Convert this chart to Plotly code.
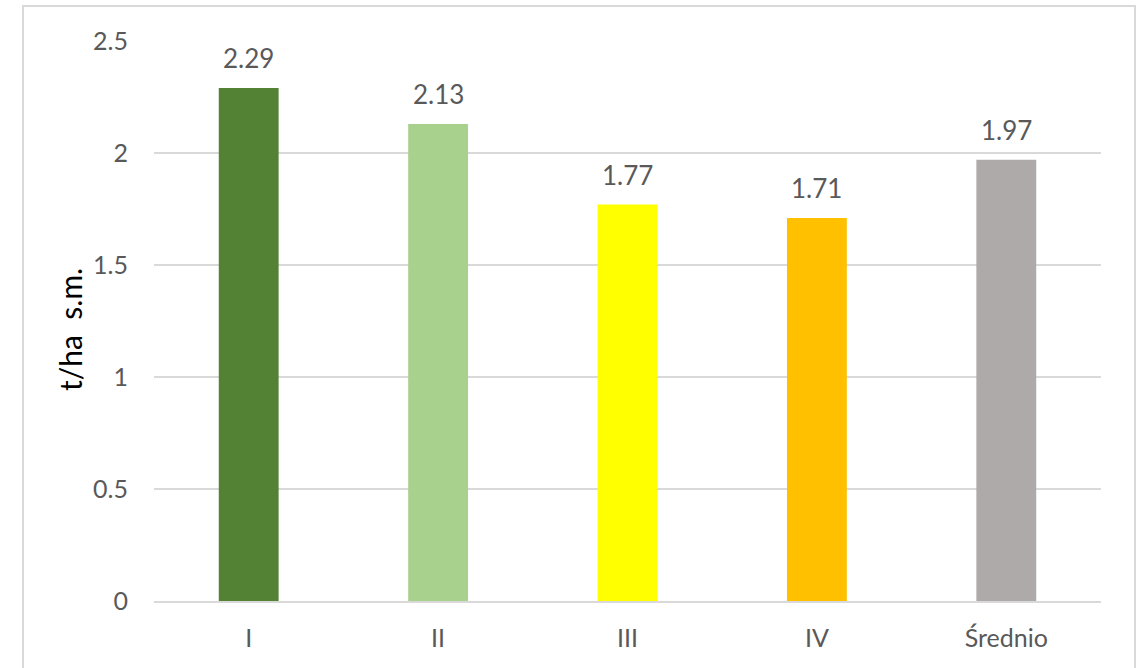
import plotly.graph_objects as go

categories = ["I", "II", "III", "IV", "Średnio"]
values = [2.29, 2.13, 1.77, 1.71, 1.97]
colors = ["#548235", "#A9D18E", "#FFFF00", "#FFC000", "#AEAAAA"]
tick_vals = [0, 0.5, 1, 1.5, 2, 2.5]
tick_text = ["0", "0.5", "1", "1.5", "2", "2.5"]
y_title = "t/ha\u00a0\u00a0s.m."

W, H = 1143, 668
L, R, T, B = 154, 42, 41, 67
FONT = "Lato, Open Sans, sans-serif"

fig = go.Figure(go.Bar(
    x=categories, y=values,
    marker=dict(color=colors, line=dict(width=0)),
    width=0.316,
    cliponaxis=False,
    hoverinfo="x+y",
))

for c, v in zip(categories, values):
    fig.add_annotation(x=c, y=v, text=f"{v:.2f}", showarrow=False,
                       yanchor="bottom", yshift=12,
                       font=dict(size=26, color="#595959", family=FONT))

pw = W - L - R
ph = H - T - B
fig.add_annotation(xref="paper", yref="paper", x=(70 - L) / pw, y=(H - B - 330) / ph,
                   text=y_title, textangle=-90, showarrow=False,
                   xanchor="center", yanchor="middle",
                   font=dict(size=30, color="#000000", family=FONT))

fig.add_shape(type="rect", xref="paper", yref="paper",
              x0=(23 - L) / pw, x1=(1135 - L) / pw,
              y0=(H - B - 700) / ph, y1=(H - B - 6) / ph,
              line=dict(color="#D9D9D9", width=2), fillcolor="rgba(0,0,0,0)", layer="below")

fig.update_layout(
    width=W, height=H,
    margin=dict(l=L, r=R, t=T, b=B),
    paper_bgcolor="white", plot_bgcolor="white",
    font=dict(family=FONT, color="#595959", size=25),
    showlegend=False,
    bargap=0.684,
    xaxis=dict(showgrid=False, showline=True, linecolor="#D9D9D9", linewidth=1.5,
               ticks="", ticklabelstandoff=14,
               tickfont=dict(size=25, color="#595959")),
    yaxis=dict(range=[0, 2.5], tickvals=tick_vals, ticktext=tick_text,
               showgrid=True, gridcolor="#D9D9D9", gridwidth=1.5,
               zeroline=False, showline=False, ticks="",
               ticklabelstandoff=25,
               tickfont=dict(size=25, color="#595959")),
)

fig.write_html("out.html")
